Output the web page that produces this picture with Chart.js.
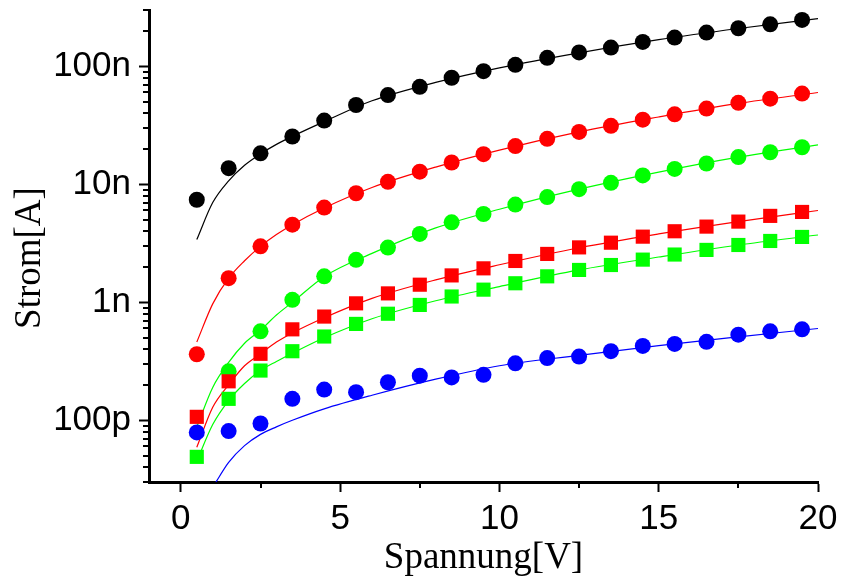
<!DOCTYPE html>
<html>
<head>
<meta charset="utf-8">
<script src="https://cdn.jsdelivr.net/npm/chart.js@4"></script>
<style>
html,body{margin:0;padding:0;background:#fff;}
#wrap{width:843px;height:581px;}
</style>
</head>
<body>
<div id="wrap"><canvas id="c" width="843" height="581"></canvas></div>
<script>
// ---- data (currents in nA, voltages in V) ----
const voltages = [0.5,1.5,2.5,3.5,4.5,5.5,6.5,7.5,8.5,9.5,10.5,11.5,12.5,13.5,14.5,15.5,16.5,17.5,18.5,19.5];
const blackPts = [7.4,13.7,18.3,25.4,34.7,47,57,67,80,91,103,118,131,144,161,175,193,210,227,247];
const redPts = [0.363,1.6,2.98,4.55,6.35,8.4,10.5,12.8,15.3,18,21.1,24.3,27.8,31.3,35.3,39.2,43.8,49,53.2,58.7];
const greenPts = [null,0.26,0.568,1.05,1.66,2.29,2.91,3.8,4.76,5.6,6.73,7.8,9.1,10.3,11.9,13.5,15,17,18.7,20.6];
const redSqPts = [0.107,0.214,0.366,0.59,0.757,0.98,1.19,1.41,1.69,1.94,2.24,2.57,2.92,3.2,3.6,4.0,4.38,4.83,5.4,5.83];
const greenSqPts = [0.049,0.152,0.264,0.385,0.513,0.656,0.80,0.95,1.12,1.28,1.45,1.66,1.88,2.07,2.3,2.54,2.78,3.06,3.31,3.58];
const bluePts = [0.079,0.081,0.094,0.152,0.182,0.173,0.21,0.239,0.231,0.243,0.304,0.337,0.347,0.385,0.427,0.444,0.462,0.532,0.568,0.59];

const fitX = [0.5,1,1.5,2,2.5,3,3.5,4.5,6,8,10,12.5,15,17.5,20];
const blackFit = [3.4,7.0,10.7,14.5,18.1,21.8,25.5,34,51,73,97,130,168,209,254];
const redFit = [0.46,0.97,1.6,2.25,2.98,3.75,4.55,6.3,9.4,14,19.5,27.8,37.2,48.5,60];
const greenFit = [0.088,0.19,0.31,0.45,0.58,0.78,1.0,1.65,2.6,4.27,6.15,9.1,12.7,17,21.6];
const redSqFit = [0.059,0.129,0.2,0.29,0.366,0.46,0.55,0.74,1.08,1.55,2.08,2.9,3.8,4.83,6.0];
const greenSqFit = [0.045,0.092,0.147,0.205,0.264,0.315,0.37,0.5,0.725,1.03,1.36,1.88,2.42,3.06,3.72];
const blueFit = [null,0.027,0.044,0.061,0.076,0.088,0.1,0.125,0.163,0.223,0.29,0.355,0.43,0.51,0.6];

const xTicks = [0,5,10,15,20];
const xTickLabels = ['0','5','10','15','20'];
const xMinor = [2.5,7.5,12.5,17.5];
const yTicks = [1e-10,1e-9,1e-8,1e-7];
const yTickLabels = ['100p','1n','10n','100n'];
const yMinor = [3e-11,4e-11,5e-11,6e-11,7e-11,8e-11,9e-11,
  2e-10,3e-10,4e-10,5e-10,6e-10,7e-10,8e-10,9e-10,
  2e-9,3e-9,4e-9,5e-9,6e-9,7e-9,8e-9,9e-9,
  2e-8,3e-8,4e-8,5e-8,6e-8,7e-8,8e-8,9e-8,
  2e-7,3e-7];
const xTitle = 'Spannung[V]';
const yTitle = 'Strom[A]';

// ---- helpers ----
const NA = 1e-9;
const pairs = (xs, ys) => xs.map((x, i) => ({x: x, y: ys[i] == null ? null : ys[i] * NA}));

function pts(ys, color, style, r, order) {
  return {type: 'line', data: pairs(voltages, ys), showLine: false,
    pointStyle: style, pointRadius: r, pointHoverRadius: r,
    pointBackgroundColor: color, pointBorderWidth: 0, borderColor: color,
    backgroundColor: color, order: order};
}
function fit(ys, color) {
  return {type: 'line', data: pairs(fitX, ys), borderColor: color, borderWidth: 1.2,
    pointRadius: 0, cubicInterpolationMode: 'monotone', fill: false, order: 10, spanGaps: false};
}

const extras = {
  id: 'extras',
  afterDraw(chart) {
    const {ctx, chartArea, scales} = chart;
    const x = scales.x, y = scales.y;
    ctx.save();
    ctx.strokeStyle = '#000';
    ctx.lineWidth = 2;
    yMinor.forEach(v => {
      const p = Math.round(y.getPixelForValue(v));
      ctx.beginPath(); ctx.moveTo(chartArea.left - 6, p); ctx.lineTo(chartArea.left, p); ctx.stroke();
    });
    xMinor.forEach(v => {
      const p = Math.round(x.getPixelForValue(v));
      ctx.beginPath(); ctx.moveTo(p, chartArea.bottom); ctx.lineTo(p, chartArea.bottom + 6); ctx.stroke();
    });
    ctx.fillStyle = '#000';
    ctx.font = "37px 'Liberation Serif', 'Times New Roman', serif";
    ctx.textAlign = 'center';
    ctx.textBaseline = 'alphabetic';
    ctx.fillText(xTitle, (chartArea.left + chartArea.right) / 2, chartArea.bottom + 86);
    ctx.translate(40, (chartArea.top + chartArea.bottom) / 2 + 12);
    ctx.rotate(-Math.PI / 2);
    ctx.fillText(yTitle, 0, 0);
    ctx.restore();
  }
};

const tickFont = {family: "'Liberation Sans', Arial, sans-serif", size: 35};
function noPad(s) { s.paddingTop = 0; s.paddingBottom = 0; s.paddingLeft = 0; s.paddingRight = 0; }

new Chart(document.getElementById('c'), {
  type: 'line',
  data: {
    datasets: [
      fit(blackFit, '#000000'),
      fit(redFit, '#ff0000'),
      fit(greenFit, '#00ff00'),
      fit(redSqFit, '#ff0000'),
      fit(greenSqFit, '#00ff00'),
      fit(blueFit, '#0000ff'),
      pts(blackPts, '#000000', 'circle', 8, 3),
      pts(redPts, '#ff0000', 'circle', 8, 3),
      pts(greenPts, '#00ff00', 'circle', 8, 2),
      pts(redSqPts, '#ff0000', 'rect', 10, 1),
      pts(greenSqPts, '#00ff00', 'rect', 10, 1),
      pts(bluePts, '#0000ff', 'circle', 8, 0)
    ]
  },
  options: {
    responsive: false,
    animation: false,
    events: [],
    layout: {padding: {top: 10, right: 25, left: 0, bottom: 0}},
    plugins: {legend: {display: false}, tooltip: {enabled: false}, title: {display: false}},
    scales: {
      x: {
        type: 'linear', position: 'bottom', min: -1, max: 20,
        afterFit(s) { s.height = 99; noPad(s); },
        afterBuildTicks(s) { s.ticks = xTicks.map(v => ({value: v})); },
        grid: {display: true, drawOnChartArea: false, drawTicks: true, tickLength: 10, tickWidth: 2, tickColor: '#000'},
        border: {display: true, color: '#000', width: 3},
        ticks: {autoSkip: false, maxRotation: 0, color: '#000', font: tickFont, padding: 6,
          callback: (v, i) => xTickLabels[i]}
      },
      y: {
        type: 'logarithmic', position: 'left', min: 3e-11, max: 3e-7,
        afterFit(s) { s.width = 149; noPad(s); },
        afterBuildTicks(s) { s.ticks = yTicks.map(v => ({value: v})); },
        grid: {display: true, drawOnChartArea: false, drawTicks: true, tickLength: 10, tickWidth: 2, tickColor: '#000'},
        border: {display: true, color: '#000', width: 3},
        ticks: {autoSkip: false, color: '#000', font: tickFont, padding: 8,
          callback: (v, i) => yTickLabels[i]}
      }
    }
  },
  plugins: [extras]
});
</script>
</body>
</html>
